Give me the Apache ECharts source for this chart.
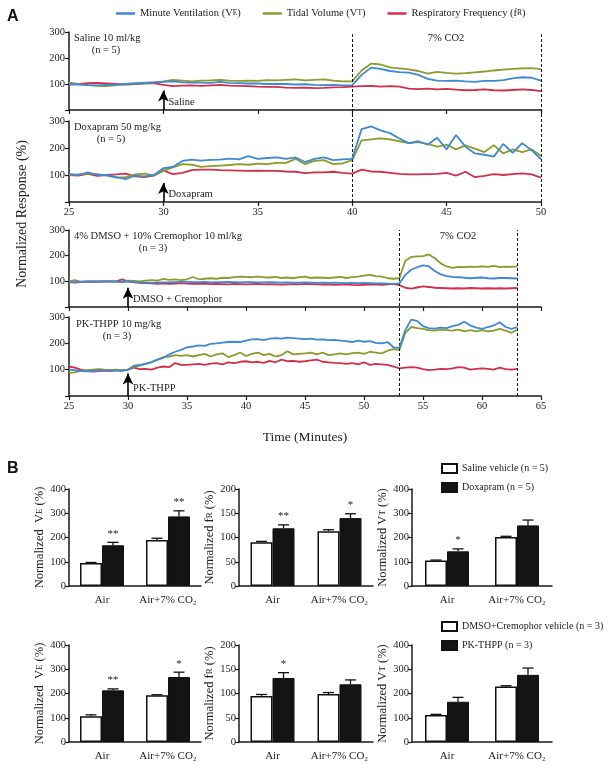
<!DOCTYPE html>
<html><head><meta charset="utf-8">
<script src="https://cdn.jsdelivr.net/npm/echarts/dist/echarts.min.js"></script>
<style>html,body{margin:0;padding:0;background:#fff}#c{width:610px;height:765px}</style>
</head><body><div id="c"></div>
<script>
// ---------------- DATA: panel A time axes ----------------
const tA = [25,25.5,26,26.5,27,27.5,28,28.5,29,29.5,30,30.5,31,31.5,32,32.5,33,33.5,34,34.5,35,35.5,36,36.5,37,37.5,38,38.5,39,39.5,40,40.5,41,41.5,42,42.5,43,43.5,44,44.5,45,45.5,46,46.5,47,47.5,48,48.5,49,49.5,50];
const tB = [25,25.5,26,26.5,27,27.5,28,28.5,29,29.5,30,30.5,31,31.5,32,32.5,33,33.5,34,34.5,35,35.5,36,36.5,37,37.5,38,38.5,39,39.5,40,40.5,41,41.5,42,42.5,43,43.5,44,44.5,45,45.5,46,46.5,47,47.5,48,48.5,49,49.5,50,50.5,51,51.5,52,52.5,53,53.5,54,54.5,55,55.5,56,56.5,57,57.5,58,58.5,59,59.5,60,60.5,61,61.5,62,62.5,63];

// Saline 10 ml/kg
const salVE = [100,98,96,95,97,98,100,102,104,106, 108,110,106,105,105,104,108,104,103,102, 102,100,100,100,98,99,97,96,97,95, 96,135,163,158,150,146,144,135,120,113, 112,113,110,108,112,112,115,122,126,124, 113];
const salVT = [105,100,96,93,92,96,100,102,104,106, 110,116,113,110,113,114,116,113,112,113, 112,115,114,116,118,114,116,118,113,110, 110,152,178,175,164,160,156,150,140,147, 143,140,142,145,148,152,155,158,160,161, 157];
const salFR = [98,100,103,104,102,100,98,100,102,103, 97,92,94,95,93,95,97,94,93,92, 90,89,89,86,85,86,84,85,87,88, 90,92,93,90,92,90,82,80,82,79, 81,78,76,77,79,76,75,77,79,77, 73];
// Doxapram 50 mg/kg
const doxVE = [103,100,110,100,100,92,85,98,95,100, 125,130,152,157,153,156,157,161,158,170, 160,163,165,160,165,148,160,165,155,158, 160,270,280,265,255,235,218,225,212,238, 195,248,205,180,175,168,215,182,218,192, 158];
const doxVT = [100,102,105,103,98,90,92,102,105,98, 115,128,140,138,130,133,135,137,140,138, 142,140,145,145,160,140,152,155,140,143, 155,228,232,236,232,225,218,222,215,205, 212,195,210,198,185,210,180,195,185,195, 170];
const doxFR = [100,98,104,97,100,102,105,95,92,98, 117,103,108,118,120,120,118,117,116,115, 116,115,115,113,112,107,110,110,112,108, 105,120,113,112,108,104,102,102,103,104, 108,98,112,92,97,103,100,103,106,102, 90];
// 4% DMSO + 10% Cremophor
const dmsoVE = [98,97,99,100,99,100,99,101,100,99, 100,98,96,95,94,95,96,96,97,98, 98,97,97,98,96,97,97,98,97,96, 97,97,96,96,97,96,95,96,95,95, 96,95,94,95,94,95,94,93,94,93, 94,93,92,92,91,90,92,125,145,155, 162,158,140,127,120,117,116,114,112,114, 115,112,111,113,113,112, 111];
const dmsoVT = [100,105,98,100,101,100,102,100,98,96, 103,102,100,103,105,103,110,106,108,105, 108,117,108,110,112,110,114,113,116,118, 117,116,118,116,115,117,113,115,112,116, 118,113,115,114,113,115,117,113,116,118, 122,125,120,118,112,110,112,180,195,197, 198,205,190,170,158,152,156,155,157,156, 158,156,160,155,157,156, 158];
const dmsoFR = [97,95,97,98,99,98,100,99,100,108, 100,96,94,93,92,90,92,90,91,93, 91,90,90,91,89,90,89,88,90,89, 88,89,90,88,89,88,87,88,89,88, 90,89,88,87,88,86,87,88,86,85, 86,87,88,86,88,90,85,75,72,76, 80,78,75,74,73,72,73,72,74,73, 72,73,72,73,72,73, 74];
// PK-THPP 10 mg/kg
const pkVE = [100,98,95,94,95,97,97,96,96,95, 100,115,118,122,128,138,145,158,168,175, 185,188,192,190,198,200,203,205,206,205, 210,215,216,212,218,220,218,222,220,218, 216,218,214,215,212,213,210,208,205,210, 206,208,202,200,205,185,183,250,290,285, 265,258,256,260,258,265,270,282,268,260, 255,262,268,280,262,255, 262];
const pkVT = [88,90,95,98,100,102,100,99,100,98, 100,110,115,122,130,138,148,150,155,152, 155,150,155,160,150,158,162,148,155,165, 152,160,165,155,160,150,155,170,158,160, 162,165,158,165,155,158,162,158,163,165, 160,168,165,162,172,178,175,240,262,258, 255,250,248,252,250,248,252,245,250,245, 250,245,248,255,248,240, 252];
const pkFR = [112,108,100,95,93,95,96,95,97,98, 100,108,102,103,100,108,112,110,125,118, 118,120,122,118,123,125,120,128,125,130, 132,128,130,126,133,128,138,132,133,130, 132,135,138,130,128,126,125,122,125,120, 128,118,122,120,118,112,105,108,110,108, 102,98,100,103,102,105,110,108,100,103, 105,103,100,108,102,100, 103];

// markers (minutes)
const co2A = [40, 50];
const co2B = [53, 63];
const drugT = 30;

// ---------------- DATA: panel B bars ----------------
const barCats = ['Air', 'Air+7% CO\u2082'];
const veSal = [95, 190],  veSalErr = [2, 7],  veDox = [168, 287], veDoxErr = [12, 23], veSig1 = ['**', '**'];
const frSal = [90, 113],  frSalErr = [2, 3],  frDox = [119, 140], frDoxErr = [7, 9],   frSig1 = ['**', '*'];
const vtSal = [105, 202], vtSalErr = [2, 3],  vtDox = [143, 250], vtDoxErr = [10, 22], vtSig1 = ['*', ''];
const veDm = [106, 193],  veDmErr = [6, 2],   vePk = [213, 268],  vePkErr = [6, 20],   veSig2 = ['**', '*'];
const frDm = [95, 99],    frDmErr = [3, 3],   frPk = [132, 119],  frPkErr = [11, 9],   frSig2 = ['*', ''];
const vtDm = [111, 229],  vtDmErr = [3, 3],   vtPk = [166, 277],  vtPkErr = [18, 28],  vtSig2 = ['', ''];

// ---------------- STYLE ----------------
const F = 'Liberation Serif';
const INK = '#1a1a1a';
const C_VE = '#3f88d3', C_VT = '#8b9b2c', C_FR = '#d22f4d';
const N_VE = 'Minute Ventilation (VE)', N_VT = 'Tidal Volume (VT)', N_FR = 'Respiratory Frequency (fR)';

const grids = [], xAxes = [], yAxes = [], series = [];

function addGrid(g) { grids.push(Object.assign({ outerBoundsMode: 'none', containLabel: false }, g)); return grids.length - 1; }

// ---------------- PANEL A ----------------
const AL = 69, AW = 472;
const panels = [
  { top: 32,  h: 78, t: tA, max: 50, d: [salVE, salVT, salFR], labels: false, tip: 75, txt: 'Saline' },
  { top: 121, h: 81, t: tA, max: 50, d: [doxVE, doxVT, doxFR], labels: true,  tip: 70, txt: 'Doxapram' },
  { top: 230, h: 77, t: tB, max: 65, d: [dmsoVE, dmsoVT, dmsoFR], labels: false, tip: 75, txt: 'DMSO + Cremophor' },
  { top: 317, h: 79, t: tB, max: 65, d: [pkVE, pkVT, pkFR], labels: true, tip: 85, txt: 'PK-THPP' }
];
panels.forEach((p, pi) => {
  const gi = addGrid({ left: AL, width: AW, top: p.top, height: p.h });
  xAxes.push({
    type: 'value', gridIndex: gi, min: 25, max: p.max, interval: 5,
    axisLine: { lineStyle: { color: INK, width: 1.5 } },
    axisTick: { show: true, inside: false, length: 4, lineStyle: { color: INK, width: 1.2 } },
    axisLabel: { show: p.labels, fontFamily: F, fontSize: 10.5, color: '#222', margin: 5 },
    splitLine: { show: false },
    name: pi === 3 ? 'Time (Minutes)' : '', nameLocation: 'middle', nameGap: 34,
    nameTextStyle: { fontFamily: F, fontSize: 13.5, color: '#222' }
  });
  yAxes.push({
    type: 'value', gridIndex: gi, min: 0, max: 300, interval: 100,
    axisLine: { show: true, lineStyle: { color: INK, width: 1.5 } },
    axisTick: { show: true, inside: false, length: 4, lineStyle: { color: INK, width: 1.2 } },
    axisLabel: { fontFamily: F, fontSize: 10.5, color: '#222', margin: 4, formatter: v => v === 0 ? '' : v },
    splitLine: { show: false }
  });
  const defs = [[N_FR, C_FR, p.d[2]], [N_VT, C_VT, p.d[1]], [N_VE, C_VE, p.d[0]]];
  defs.forEach((df, k) => {
    const s = {
      type: 'line', name: df[0], xAxisIndex: gi, yAxisIndex: gi,
      data: p.t.map((x, i) => [x, df[2][i]]),
      showSymbol: false, symbol: 'none', silent: true,
      lineStyle: { color: df[1], width: 1.8 }, itemStyle: { color: df[1] }, z: 3 + k
    };
    if (k === 0) {
      s.markLine = {
        silent: true, symbol: ['none', 'arrow'], symbolSize: [8, 11],
        label: { show: false },
        lineStyle: { color: '#000', width: 1.6, type: 'solid' },
        data: [[{ coord: [drugT, 0] }, { coord: [drugT, p.tip] }]]
      };
      s.markPoint = {
        silent: true, symbol: 'circle', symbolSize: 0,
        data: [{ coord: [drugT, 30], label: { show: true, position: 'right', distance: 5, formatter: p.txt, fontFamily: F, fontSize: 10.5, color: '#222' } }]
      };
    }
    series.push(s);
  });
});

// overlays for dotted CO2 lines spanning panel pairs
function overlay(top, bottom, max, marks) {
  const gi = addGrid({ left: AL, width: AW, top: top, height: bottom - top });
  xAxes.push({ type: 'value', gridIndex: gi, min: 25, max: max, show: false });
  yAxes.push({ type: 'value', gridIndex: gi, min: 0, max: 1, show: false });
  series.push({
    type: 'line', xAxisIndex: gi, yAxisIndex: gi, data: [[marks[0], 0.5]], symbol: 'none', silent: true,
    lineStyle: { width: 0 },
    markLine: {
      silent: true, symbol: ['none', 'none'], label: { show: false },
      lineStyle: { color: '#111', width: 1, type: [3, 2] },
      data: marks.map(m => ({ xAxis: m }))
    }
  });
}
overlay(32, 202, 50, co2A);
overlay(230, 396, 65, co2B);

// ---------------- PANEL B ----------------
const BAR = 22;
function errSeries(gi, vals, errs, sig, side) {
  return {
    type: 'custom', xAxisIndex: gi, yAxisIndex: gi, z: 6, silent: true,
    data: vals.map((v, i) => [i, v, errs[i]]),
    renderItem: function (params, api) {
      const c = api.coord([api.value(0), api.value(1)]);
      const t = api.coord([api.value(0), api.value(1) + api.value(2)]);
      const x = c[0] + side * BAR / 2;
      const ch = [
        { type: 'line', shape: { x1: x, y1: c[1], x2: x, y2: t[1] }, style: { stroke: '#111', lineWidth: 1.3 } },
        { type: 'line', shape: { x1: x - 5.5, y1: t[1], x2: x + 5.5, y2: t[1] }, style: { stroke: '#111', lineWidth: 1.3 } }
      ];
      const s = sig[params.dataIndex];
      if (s) ch.push({ type: 'text', style: { text: s, x: x, y: t[1] - 3, textAlign: 'center', textVerticalAlign: 'bottom', fontFamily: F, fontSize: 11, fill: '#222' } });
      return { type: 'group', children: ch };
    }
  };
}
const richName = { a: { fontFamily: F, fontSize: 12.5, color: '#222' }, s: { fontFamily: F, fontSize: 9, color: '#222' } };
const cols = [
  { left: 69, w: 132, max: 400, int: 100, nm: '{a|Normalized  V}{s|E}{a| (%)}' },
  { left: 239, w: 134, max: 200, int: 50, nm: '{a|Normalized f}{s|R}{a| (%)}' },
  { left: 412, w: 140, max: 400, int: 100, nm: '{a|Normalized V}{s|T}{a| (%)}' }
];
const rows = [
  { top: 489, n1: 'Saline vehicle (n = 5)', n2: 'Doxapram (n = 5)',
    d: [[veSal, veSalErr, veDox, veDoxErr, veSig1], [frSal, frSalErr, frDox, frDoxErr, frSig1], [vtSal, vtSalErr, vtDox, vtDoxErr, vtSig1]] },
  { top: 645, n1: 'DMSO+Cremophor vehicle (n = 3)', n2: 'PK-THPP (n = 3)',
    d: [[veDm, veDmErr, vePk, vePkErr, veSig2], [frDm, frDmErr, frPk, frPkErr, frSig2], [vtDm, vtDmErr, vtPk, vtPkErr, vtSig2]] }
];
rows.forEach(r => {
  cols.forEach((c, ci) => {
    const gi = addGrid({ left: c.left, width: c.w, top: r.top, height: 97 });
    xAxes.push({
      type: 'category', gridIndex: gi, data: barCats,
      axisLine: { lineStyle: { color: INK, width: 1.5 } }, axisTick: { show: false },
      axisLabel: { fontFamily: F, fontSize: 11, color: '#222', margin: 9, interval: 0, hideOverlap: false }
    });
    yAxes.push({
      type: 'value', gridIndex: gi, min: 0, max: c.max, interval: c.int,
      axisLine: { show: true, lineStyle: { color: INK, width: 1.5 } },
      axisTick: { show: true, length: 4, lineStyle: { color: INK, width: 1.2 } },
      axisLabel: { fontFamily: F, fontSize: 10.5, color: '#222', margin: 3 },
      splitLine: { show: false },
      name: c.nm, nameLocation: 'middle', nameGap: 14, nameRotate: 90,
      nameTextStyle: { rich: richName }
    });
    const dd = r.d[ci];
    series.push({ type: 'bar', name: r.n1, xAxisIndex: gi, yAxisIndex: gi, data: dd[0], barWidth: BAR, barGap: '0%', silent: true,
      itemStyle: { color: '#fff', borderColor: '#111', borderWidth: 1.5 }, z: 2 });
    series.push({ type: 'bar', name: r.n2, xAxisIndex: gi, yAxisIndex: gi, data: dd[2], barWidth: BAR, barGap: '0%', silent: true,
      itemStyle: { color: '#141414', borderColor: '#111', borderWidth: 1 }, z: 2 });
    series.push(errSeries(gi, dd[0], dd[1], ['', ''], -1));
    series.push(errSeries(gi, dd[2], dd[3], dd[4], 1));
  });
});

// ---------------- TEXT ----------------
function txt(x, y, s, opts) {
  return Object.assign({ type: 'text', x: x, y: y, silent: true,
    style: Object.assign({ text: s, fontFamily: F, fontSize: 10.5, fill: '#222', textAlign: 'left', textVerticalAlign: 'middle' }, opts || {}) });
}
const graphic = [
  txt(7, 17, 'A', { fontFamily: 'Liberation Sans', fontWeight: 'bold', fontSize: 16, fill: '#111' }),
  txt(7, 469, 'B', { fontFamily: 'Liberation Sans', fontWeight: 'bold', fontSize: 16, fill: '#111' }),
  { type: 'text', x: 22, y: 214, rotation: Math.PI / 2, silent: true,
    style: { text: 'Normalized Response (%)', fontFamily: F, fontSize: 14, fill: '#222', textAlign: 'center', textVerticalAlign: 'middle' } },
  txt(74, 38, 'Saline 10 ml/kg'), txt(106, 50, '(n = 5)', { textAlign: 'center' }),
  txt(446, 38, '7% CO2', { textAlign: 'center' }),
  txt(74, 127, 'Doxapram 50 mg/kg'), txt(111, 139, '(n = 5)', { textAlign: 'center' }),
  txt(74, 236, '4% DMSO + 10% Cremophor 10 ml/kg'), txt(153, 248, '(n = 3)', { textAlign: 'center' }),
  txt(458, 236, '7% CO2', { textAlign: 'center' }),
  txt(76, 324, 'PK-THPP 10 mg/kg'), txt(117, 336, '(n = 3)', { textAlign: 'center' })
];

const lineLegendFmt = {};
lineLegendFmt[N_VE] = '{a|Minute Ventilation (V}{s|E}{a|)}';
lineLegendFmt[N_VT] = '{a|Tidal Volume (V}{s|T}{a|)}';
lineLegendFmt[N_FR] = '{a|Respiratory Frequency (f}{s|R}{a|)}';

const option = {
  animation: false,
  backgroundColor: '#fff',
  grid: grids, xAxis: xAxes, yAxis: yAxes, series: series, graphic: graphic,
  legend: [
    { data: [N_VE, N_VT, N_FR], left: 116, top: 8, padding: 0, icon: 'rect', itemWidth: 19, itemHeight: 2.5, itemGap: 22, selectedMode: false,
      formatter: n => lineLegendFmt[n],
      textStyle: { color: '#222', rich: { a: { fontFamily: F, fontSize: 10.5, color: '#222' }, s: { fontFamily: F, fontSize: 7.5, color: '#222' } } } },
    { data: [rows[0].n1, rows[0].n2], left: 441, top: 463, padding: 0, orient: 'vertical', icon: 'rect', itemWidth: 15, itemHeight: 9, itemGap: 8, selectedMode: false,
      textStyle: { fontFamily: F, fontSize: 10, color: '#222' } },
    { data: [rows[1].n1, rows[1].n2], left: 441, top: 621, padding: 0, orient: 'vertical', icon: 'rect', itemWidth: 15, itemHeight: 9, itemGap: 8, selectedMode: false,
      textStyle: { fontFamily: F, fontSize: 10, color: '#222' } }
  ]
};
const chart = echarts.init(document.getElementById('c'));
chart.setOption(option);
</script></body></html>
